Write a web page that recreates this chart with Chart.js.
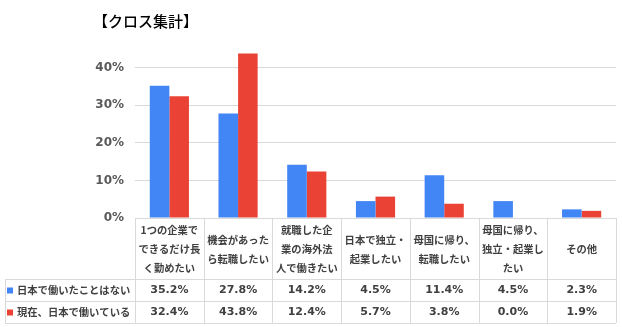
<!DOCTYPE html>
<html lang="ja">
<head>
<meta charset="utf-8">
<title>クロス集計</title>
<script src="https://cdn.jsdelivr.net/npm/chart.js@4.4.1/dist/chart.umd.min.js"></script>
<style>
  html, body { margin: 0; padding: 0; background: #fff; }
  #wrap { width: 622px; height: 327px; position: relative; }
</style>
</head>
<body>
<div id="wrap"><canvas id="crossChart"></canvas></div>
<script>
// categories, each split into the lines shown in the table header
const categories = [
    ["1つの企業で", "できるだけ長", "く勤めたい"],
    ["機会があった", "ら転職したい"],
    ["就職した企", "業の海外法", "人で働きたい"],
    ["日本で独立・", "起業したい"],
    ["母国に帰り、", "転職したい"],
    ["母国に帰り、", "独立・起業し", "たい"],
    ["その他"]
];
const seriesNames = ["日本で働いたことはない", "現在、日本で働いている"];
const neverWorked = [35.2, 27.8, 14.2, 4.5, 11.4, 4.5, 2.3];
const workingNow = [32.4, 43.8, 12.4, 5.7, 3.8, 0.0, 1.9];
const yTicks = [0, 10, 20, 30, 40];
const seriesColors = ["#4285f4", "#ea4335"];

const jpFont = '"Noto Sans CJK JP", sans-serif';
const numFont = '"DejaVu Sans", sans-serif';

// title + data table under the bars
const tablePlugin = {
    id: "dataTable",
    afterDraw(chart) {
        const ctx = chart.ctx;
        const area = chart.chartArea;
        const xs = chart.scales.x;
        const colW = (area.right - area.left) / categories.length;
        const top = area.bottom;
        const rowCat = top + 61;
        const row1 = rowCat + 22;
        const row2 = row1 + 22;
        const tableLeft = 5;
        const series = [neverWorked, workingNow];

        ctx.save();

        // title
        ctx.fillStyle = "#000";
        ctx.font = "500 15px " + jpFont;
        ctx.textAlign = "left";
        ctx.textBaseline = "middle";
        ctx.fillText("【クロス集計】", 93, 21);

        // grid lines of the table
        ctx.strokeStyle = "#d9d9d9";
        ctx.lineWidth = 1;
        ctx.beginPath();
        for (let i = 0; i <= categories.length; i++) {
            const px = Math.round(area.left + i * colW) + 0.5;
            ctx.moveTo(px, top);
            ctx.lineTo(px, row2);
        }
        ctx.moveTo(tableLeft + 0.5, rowCat);
        ctx.lineTo(tableLeft + 0.5, row2);
        [rowCat, row1, row2].forEach(y => {
            ctx.moveTo(tableLeft, y + 0.5);
            ctx.lineTo(area.right, y + 0.5);
        });
        ctx.stroke();

        // category labels, centered in their cells
        ctx.fillStyle = "#404040";
        ctx.textAlign = "center";
        ctx.font = "bold 10.3px " + jpFont;
        const lineH = 19;
        categories.forEach((lines, i) => {
            const cx = xs.getPixelForValue(i);
            const cy = (top + rowCat) / 2 + 1;
            const y0 = cy - (lines.length - 1) * lineH / 2;
            lines.forEach((t, j) => ctx.fillText(t, cx, y0 + j * lineH));
        });

        // series rows
        series.forEach((vals, s) => {
            const rTop = s === 0 ? rowCat : row1;
            const cy = rTop + 11.5;
            ctx.fillStyle = seriesColors[s];
            ctx.fillRect(tableLeft + 2, cy - 3, 6, 6);
            ctx.fillStyle = "#404040";
            ctx.textAlign = "left";
            ctx.font = "bold 10.3px " + jpFont;
            ctx.fillText(seriesNames[s], tableLeft + 12, cy);
            ctx.textAlign = "center";
            ctx.font = "bold 11px " + numFont;
            vals.forEach((v, i) => {
                ctx.fillText(v.toFixed(1) + "%", xs.getPixelForValue(i), cy);
            });
        });

        ctx.restore();
    }
};

new Chart(document.getElementById("crossChart"), {
    type: "bar",
    data: {
        labels: categories.map(c => c.join("")),
        datasets: [
            {
                label: seriesNames[0],
                data: neverWorked,
                backgroundColor: seriesColors[0]
            },
            {
                label: seriesNames[1],
                data: workingNow,
                backgroundColor: seriesColors[1]
            }
        ]
    },
    options: {
        responsive: true,
        maintainAspectRatio: false,
        animation: false,
        layout: { padding: { top: 49, left: 0, right: 6, bottom: 109 } },
        datasets: {
            bar: { categoryPercentage: 0.57, barPercentage: 1.0 }
        },
        plugins: {
            legend: { display: false },
            title: { display: false },
            tooltip: { enabled: false }
        },
        scales: {
            x: {
                ticks: { display: false },
                grid: { display: false },
                border: { display: false },
                afterFit: scale => { scale.height = 0; }
            },
            y: {
                min: 0,
                max: 45,
                afterBuildTicks: scale => {
                    scale.ticks = yTicks.map(v => ({ value: v }));
                },
                afterFit: scale => { scale.width = 135; },
                ticks: {
                    padding: 11,
                    color: "#595959",
                    font: { family: numFont, size: 12, weight: "bold" },
                    callback: v => v + "%"
                },
                grid: { color: "#d9d9d9", drawTicks: false },
                border: { display: false }
            }
        }
    },
    plugins: [tablePlugin]
});
</script>
</body>
</html>
